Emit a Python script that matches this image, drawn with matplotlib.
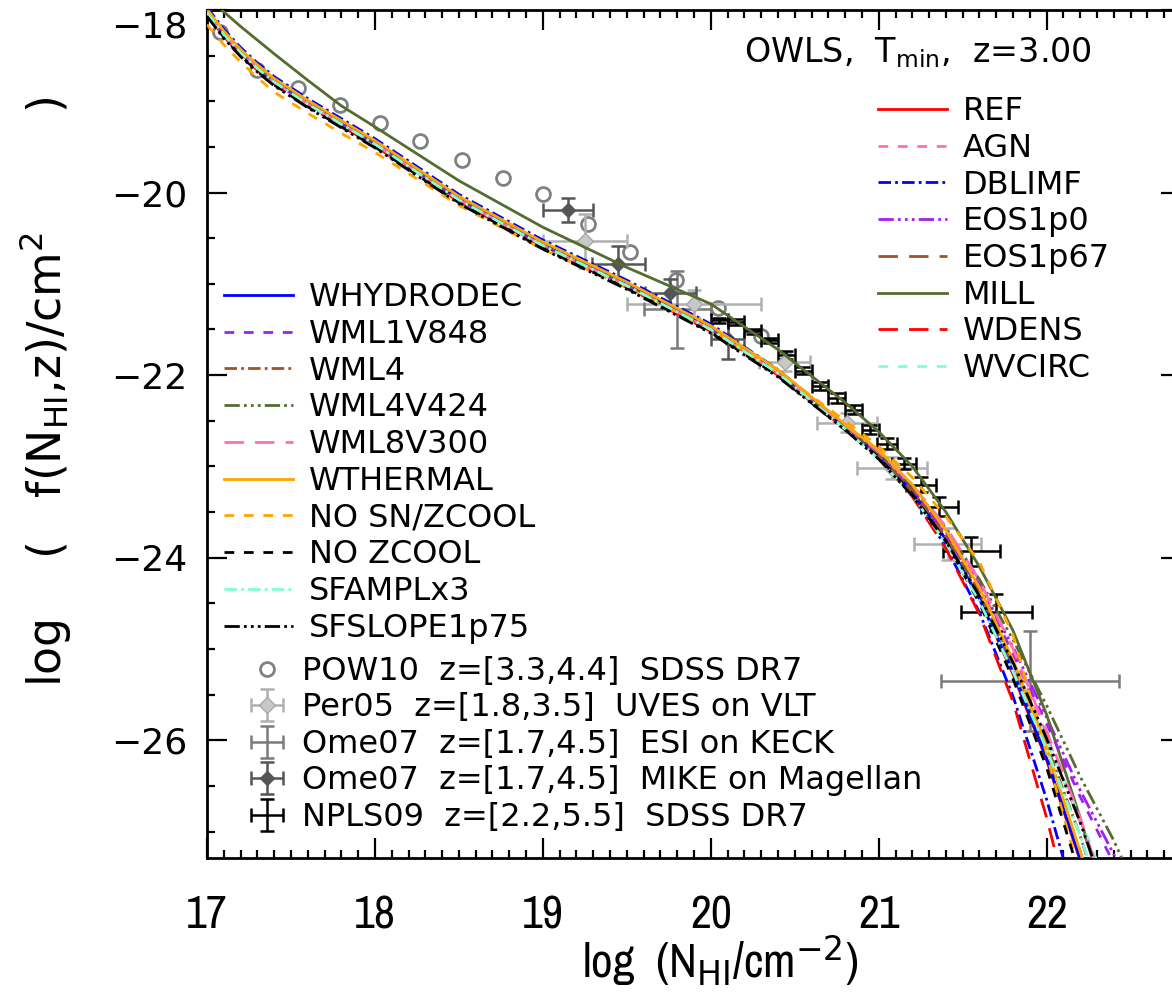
import matplotlib
matplotlib.use('Agg')
import matplotlib.pyplot as plt
from matplotlib.lines import Line2D
from matplotlib.ticker import MultipleLocator

plt.rcParams['font.family'] = ['DejaVu Sans']
plt.rcParams['mathtext.fontset'] = 'dejavusans'
plt.rcParams['lines.scale_dashes'] = False

# ---------------- data ----------------
logN = [17.0, 17.1, 17.2, 17.3, 17.4, 17.6, 17.8, 18.0, 18.5, 19.0, 19.5, 20.0, 20.4, 20.8,
        21.0, 21.2, 21.4, 21.6, 21.8, 22.0, 22.2, 22.4, 22.6]

REF = [-18.03, -18.27, -18.47, -18.64, -18.79, -19.03, -19.25, -19.47, -20.08, -20.58, -21.02, -21.50, -21.98, -22.58,
       -22.88, -23.28, -23.80, -24.45, -25.28, -26.22, -27.32, -28.60, -30.00]
AGN = [-18.03, -18.27, -18.47, -18.64, -18.79, -19.03, -19.25, -19.47, -20.08, -20.58, -21.02, -21.50, -21.98, -22.56,
       -22.85, -23.22, -23.70, -24.30, -25.05, -25.95, -26.90, -28.00, -29.20]
DBLIMF = [-17.97, -18.21, -18.41, -18.58, -18.73, -18.97, -19.19, -19.41, -20.02, -20.52, -20.96, -21.44, -21.94, -22.55,
          -22.90, -23.32, -23.88, -24.60, -25.52, -26.65, -27.95, -29.40, -31.00]
EOS1p0 = [-18.03, -18.27, -18.47, -18.64, -18.79, -19.03, -19.25, -19.47, -20.08, -20.58, -21.02, -21.50, -21.98, -22.57,
          -22.86, -23.24, -23.72, -24.30, -24.98, -25.75, -26.55, -27.25, -28.20]
EOS1p67 = [-18.03, -18.27, -18.47, -18.64, -18.79, -19.03, -19.25, -19.47, -20.08, -20.58, -21.02, -21.50, -21.98, -22.58,
           -22.88, -23.27, -23.78, -24.42, -25.22, -26.15, -27.22, -28.50, -29.90]
MILL = [-17.85, -18.02, -18.18, -18.33, -18.48, -18.77, -19.05, -19.28, -19.87, -20.38, -20.82, -21.22, -21.72, -22.30,
        -22.62, -23.00, -23.50, -24.10, -24.80, -25.72, -26.85, -28.10, -29.40]
WDENS = [-18.05, -18.29, -18.49, -18.66, -18.81, -19.05, -19.27, -19.49, -20.10, -20.60, -21.04, -21.52, -22.00, -22.59,
         -22.90, -23.33, -23.90, -24.62, -25.58, -26.85, -28.30, -29.80, -31.30]
WVCIRC = [-18.01, -18.25, -18.45, -18.62, -18.77, -19.01, -19.23, -19.45, -20.06, -20.56, -21.00, -21.48, -21.96, -22.57,
          -22.90, -23.30, -23.80, -24.40, -25.15, -26.00, -26.85, -27.80, -28.90]
WHYDRODEC = [-18.01, -18.25, -18.45, -18.62, -18.77, -19.01, -19.23, -19.45, -20.06, -20.56, -21.00, -21.48, -21.96, -22.57,
             -22.88, -23.28, -23.80, -24.45, -25.25, -26.20, -27.30, -28.50, -29.80]
WML1V848 = [-18.03, -18.27, -18.47, -18.64, -18.79, -19.03, -19.25, -19.47, -20.08, -20.58, -21.02, -21.50, -21.98, -22.57,
            -22.87, -23.26, -23.75, -24.35, -25.05, -25.82, -26.62, -27.35, -28.30]
WML4 = [-18.03, -18.27, -18.47, -18.64, -18.79, -19.03, -19.25, -19.47, -20.08, -20.58, -21.02, -21.50, -21.98, -22.58,
        -22.88, -23.27, -23.77, -24.38, -25.15, -26.05, -27.05, -28.20, -29.50]
WML4V424 = [-18.01, -18.25, -18.45, -18.62, -18.77, -19.01, -19.23, -19.45, -20.06, -20.56, -21.00, -21.48, -21.96, -22.56,
            -22.85, -23.22, -23.68, -24.24, -24.90, -25.62, -26.40, -27.10, -27.90]
WML8V300 = [-18.03, -18.27, -18.47, -18.64, -18.79, -19.03, -19.25, -19.47, -20.08, -20.58, -21.02, -21.50, -21.98, -22.55,
            -22.84, -23.20, -23.66, -24.25, -25.00, -25.90, -26.85, -27.95, -29.10]
WTHERMAL = [-17.99, -18.23, -18.43, -18.60, -18.75, -18.99, -19.21, -19.43, -20.04, -20.54, -20.98, -21.46, -21.94, -22.54,
            -22.82, -23.20, -23.70, -24.33, -25.12, -26.08, -27.22, -28.50, -29.90]
NOSN_ZCOOL = [-18.16, -18.38, -18.57, -18.74, -18.90, -19.13, -19.35, -19.56, -20.14, -20.62, -21.04, -21.50, -21.96, -22.50,
              -22.78, -23.12, -23.55, -24.05, -24.85, -26.15, -27.50, -28.90, -30.30]
NO_ZCOOL = [-18.06, -18.30, -18.50, -18.67, -18.82, -19.06, -19.28, -19.50, -20.11, -20.61, -21.05, -21.53, -22.01, -22.60,
            -22.90, -23.30, -23.82, -24.50, -25.33, -26.30, -27.50, -28.90, -30.30]
SFAMPLx3 = [-18.03, -18.27, -18.47, -18.64, -18.79, -19.03, -19.25, -19.47, -20.08, -20.58, -21.02, -21.50, -21.98, -22.59,
            -22.92, -23.32, -23.84, -24.48, -25.25, -26.10, -27.05, -28.10, -29.30]
SFSLOPE1p75 = [-18.07, -18.31, -18.51, -18.68, -18.83, -19.07, -19.29, -19.51, -20.12, -20.62, -21.06, -21.54, -22.02, -22.60,
               -22.92, -23.32, -23.82, -24.42, -25.15, -25.98, -26.90, -27.95, -29.10]

# observations
POW10_x = [17.08, 17.30, 17.54, 17.79, 18.03, 18.27, 18.52, 18.76, 19.00, 19.27, 19.52, 19.79, 20.04, 20.30]
POW10_y = [-18.24, -18.66, -18.85, -19.04, -19.24, -19.44, -19.64, -19.84, -20.02, -20.34, -20.65, -20.96, -21.26, -21.57]

Per05_x = [19.25, 19.90, 20.44, 20.81, 21.08, 21.41]
Per05_y = [-20.53, -21.22, -21.86, -22.52, -23.02, -23.85]
Per05_xerr = [0.25, 0.40, 0.15, 0.18, 0.21, 0.20]
Per05_yerr = [0.30, 0.15, 0.10, 0.10, 0.12, 0.18]

OmeESI_x = [19.80, 21.90]
OmeESI_y = [-21.28, -25.35]
OmeESI_xerr = [0.20, 0.53]
OmeESI_yerr = [0.42, 0.55]

OmeMIKE_x = [19.15, 19.45, 19.76, 20.10]
OmeMIKE_y = [-20.19, -20.78, -21.10, -21.60]
OmeMIKE_xerr = [0.15, 0.16, 0.15, 0.10]
OmeMIKE_yerr = [0.13, 0.20, 0.15, 0.22]

NPLS_x = [20.05, 20.15, 20.25, 20.35, 20.45, 20.55, 20.65, 20.75, 20.85, 20.95, 21.05, 21.15, 21.25, 21.36, 21.55, 21.70]
NPLS_y = [-21.40, -21.42, -21.52, -21.62, -21.78, -21.95, -22.12, -22.25, -22.38, -22.60, -22.75, -22.97, -23.20, -23.44, -23.93, -24.60]
NPLS_xerr = [0.05, 0.05, 0.05, 0.05, 0.05, 0.05, 0.05, 0.05, 0.05, 0.05, 0.06, 0.07, 0.09, 0.11, 0.17, 0.21]
NPLS_yerr = [0.03, 0.03, 0.03, 0.03, 0.04, 0.04, 0.04, 0.05, 0.05, 0.05, 0.06, 0.06, 0.08, 0.10, 0.16, 0.20]

# ---------------- styles ----------------
SOLID = '-'
DASH = (0, (7, 7))
LONG = (0, (14, 8))
DDOT = (0, (9, 3, 2, 3))
D3DOT = (0, (11, 3, 2, 3, 2, 3, 2, 3))

right_models = [
    ('REF', REF, '#ff0000', SOLID),
    ('AGN', AGN, '#ff6eb4', DASH),
    ('DBLIMF', DBLIMF, '#0000ff', DDOT),
    ('EOS1p0', EOS1p0, '#a020f0', D3DOT),
    ('EOS1p67', EOS1p67, '#a0522d', LONG),
    ('MILL', MILL, '#556b2f', SOLID),
    ('WDENS', WDENS, '#ff0000', LONG),
    ('WVCIRC', WVCIRC, '#7fffd4', DASH),
]
left_models = [
    ('WHYDRODEC', WHYDRODEC, '#0000ff', SOLID),
    ('WML1V848', WML1V848, '#a020f0', DASH),
    ('WML4', WML4, '#a0522d', DDOT),
    ('WML4V424', WML4V424, '#556b2f', D3DOT),
    ('WML8V300', WML8V300, '#ff6eb4', LONG),
    ('WTHERMAL', WTHERMAL, '#ffa500', SOLID),
    ('NO SN/ZCOOL', NOSN_ZCOOL, '#ffa500', DASH),
    ('NO ZCOOL', NO_ZCOOL, '#000000', DASH),
    ('SFAMPLx3', SFAMPLx3, '#7fffd4', DDOT),
    ('SFSLOPE1p75', SFSLOPE1p75, '#000000', D3DOT),
]

NARROW = ['Archivo Narrow', 'DejaVu Sans']

W, H = 1172, 994
fig = plt.figure(figsize=(W / 100, H / 100), dpi=100)
ax = fig.add_axes([207 / W, (H - 858) / H, 974 / W, 848 / H])

FS = 23
LW = 2.0

h_pow = ax.plot(POW10_x, POW10_y, 'o', mfc='none', mec='#808080', mew=2.0, ms=10, ls='none', zorder=2)[0]
h_per = ax.errorbar(Per05_x, Per05_y, xerr=Per05_xerr, yerr=Per05_yerr, fmt='D', ms=8, mfc='#c8c8c8',
                    mec='#a8a8a8', ecolor='#b0b0b0', elinewidth=1.8, capsize=5, capthick=1.8, zorder=2)
h_esi = ax.errorbar(OmeESI_x, OmeESI_y, xerr=OmeESI_xerr, yerr=OmeESI_yerr, fmt='none',
                    ecolor='#7a7a7a', elinewidth=1.8, capsize=5, capthick=1.8, zorder=2)
h_mike = ax.errorbar(OmeMIKE_x, OmeMIKE_y, xerr=OmeMIKE_xerr, yerr=OmeMIKE_yerr, fmt='D', ms=7,
                     mfc='#555555', mec='#555555', ecolor='#555555', elinewidth=1.8, capsize=5,
                     capthick=1.8, zorder=2)
h_npls = ax.errorbar(NPLS_x, NPLS_y, xerr=NPLS_xerr, yerr=NPLS_yerr, fmt='none', ecolor='#000000',
                     elinewidth=1.8, capsize=5, capthick=1.8, zorder=2)

right_handles = []
for name, ys, col, ls in right_models:
    ax.plot(logN, ys, color=col, ls=ls, lw=LW, zorder=3)
    right_handles.append(Line2D([], [], color=col, ls=ls, lw=LW))
left_handles = []
for name, ys, col, ls in left_models:
    ax.plot(logN, ys, color=col, ls=ls, lw=LW, zorder=3)
    left_handles.append(Line2D([], [], color=col, ls=ls, lw=LW))

ax.set_xlim(17.0, 22.8)
ax.set_ylim(-27.29, -18.0)

ax.xaxis.set_major_locator(MultipleLocator(1))
ax.xaxis.set_minor_locator(MultipleLocator(0.1))
ax.yaxis.set_major_locator(MultipleLocator(2))
ax.yaxis.set_minor_locator(MultipleLocator(0.5))
ax.tick_params(which='both', direction='in', top=True, right=True, width=1.6, colors='black')
ax.tick_params(which='major', length=14.4)
ax.tick_params(which='minor', length=5.8)
ax.tick_params(axis='y', which='major', labelsize=26, pad=14)
ax.tick_params(axis='x', which='major', labelsize=33, pad=26)
for sp in ax.spines.values():
    sp.set_linewidth(2.0)

fig.canvas.draw()
for lab in ax.get_xticklabels():
    lab.set_family(NARROW)
for t in ax.yaxis.get_major_ticks():
    if abs(t.get_loc() + 18) < 1e-6:
        t.label1.set_verticalalignment('top')

ax.set_xlabel('log  (N$_{\\rm HI}$/cm$^{-2}$)', fontsize=34, family=NARROW)
ax.xaxis.set_label_coords(0.527, -0.088)
ax.set_ylabel('log    (   f(N$_{\\rm HI}$,z)/cm$^2$        )', fontsize=33)
ax.yaxis.set_label_coords(-0.138, 0.55)

fig.text(1092 / W, 1 - 53 / H, 'OWLS,  T$_{\\rm min}$,  z=3.00', ha='right', va='center', fontsize=24)

leg_r = ax.legend(right_handles, [m[0] for m in right_models], loc='upper left',
                  bbox_to_anchor=(878 / W, 1 - 96 / H), bbox_transform=fig.transFigure,
                  frameon=False, fontsize=FS, borderpad=0, borderaxespad=0, handlelength=2.15,
                  handletextpad=0.5, labelspacing=0.18)
ax.add_artist(leg_r)
leg_l = ax.legend(left_handles, [m[0] for m in left_models], loc='upper left',
                  bbox_to_anchor=(224 / W, 1 - 282 / H), bbox_transform=fig.transFigure,
                  frameon=False, fontsize=FS, borderpad=0, borderaxespad=0, handlelength=2.15,
                  handletextpad=0.5, labelspacing=0.18)
ax.add_artist(leg_l)
data_labels = ['POW10  z=[3.3,4.4]  SDSS DR7', 'Per05  z=[1.8,3.5]  UVES on VLT',
               'Ome07  z=[1.7,4.5]  ESI on KECK', 'Ome07  z=[1.7,4.5]  MIKE on Magellan',
               'NPLS09  z=[2.2,5.5]  SDSS DR7']
leg_d = ax.legend([h_pow, h_per, h_esi, h_mike, h_npls], data_labels, loc='upper left',
                  bbox_to_anchor=(245 / W, 1 - 656 / H), bbox_transform=fig.transFigure,
                  frameon=False, fontsize=FS, borderpad=0, borderaxespad=0, handlelength=1.4,
                  handletextpad=0.4, labelspacing=0.17)

fig.savefig('out.png', dpi=100)
